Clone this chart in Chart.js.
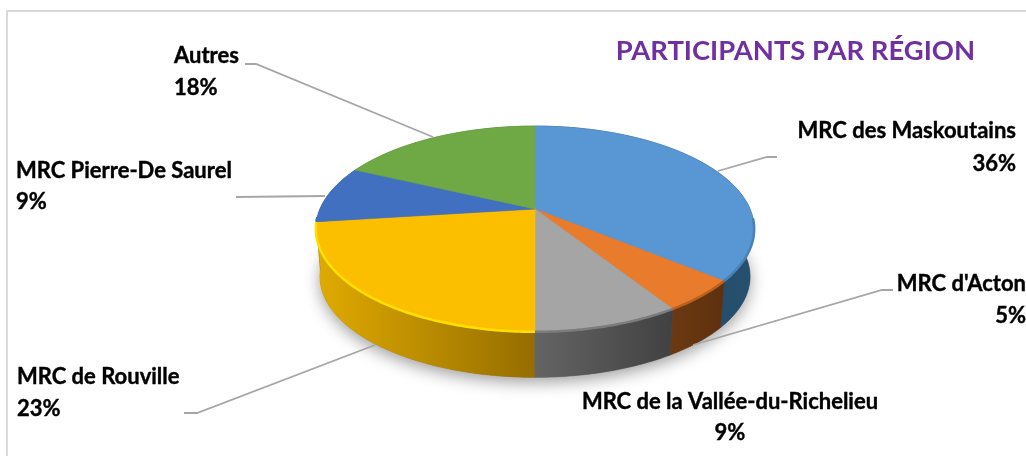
<!DOCTYPE html>
<html lang="fr">
<head>
<meta charset="utf-8">
<title>Participants par région</title>
<script src="https://cdn.jsdelivr.net/npm/chart.js@4"></script>
<style>
  html, body { margin: 0; padding: 0; background: #fff; }
  canvas { display: block; }
</style>
</head>
<body>
<canvas id="myChart" width="1026" height="456"></canvas>
<script>
// data
const categories = ['MRC des Maskoutains', "MRC d'Acton", 'MRC de la Vallée-du-Richelieu', 'MRC de Rouville', 'MRC Pierre-De Saurel', 'Autres'];
const values = [36, 5, 9, 23, 9, 18];
const titleText = 'PARTICIPANTS PAR RÉGION';

// colours
const topColors = ['#5896d4', '#e97b2d', '#a5a5a5', '#fcbf00', '#4270c0', '#6fa945'];
const sideColors = [
    ['#1c4162', '#27506f'],
    ['#6b3a12', '#5f300f'],
    ['#646464', '#414141'],
    ['#e0ab00', '#956d00'],
    ['#26406f', '#26406f'],
    ['#3f6628', '#3f6628']
];
const rimColors = ['#4a80b6', '#b9601f', '#7c7c7c', '#ffe000', '#4270c0', '#6fa945'];

// where the text and the leader lines go, same order as categories
const labelStyles = [
    { x: 1016, y: 131, y2: 164, align: 'right', line: [[718, 171], [767, 157], [777, 157]] },
    { x: 1026, y: 284, y2: 316, align: 'right', line: [[693, 345], [882, 290], [893, 290]] },
    { x: 730, y: 402, y2: 433, align: 'center', line: null },
    { x: 17, y: 377, y2: 409, align: 'left', line: [[375, 345], [197, 413], [184, 413]] },
    { x: 16, y: 171, y2: 202, align: 'left', line: [[325, 196], [236, 197]] },
    { x: 174, y: 56, y2: 88, align: 'left', line: [[433, 137], [256, 64], [245, 64]] }
];

// perspective of the disc, the top face and the foot of the rim
const topFace = { cx: 535, cy: 209, a: 215, b: 99, k: -0.194 };
const footFace = { cx: 535, cy: 257, a: 211, b: 97, k: -0.194 };

function project(face, angle) {
    const u = Math.cos(angle), v = Math.sin(angle);
    const d = 1 + face.k * v;
    return [face.cx + face.a * u / d, face.cy + face.b * v / d];
}

function rimPoints(face, start, end) {
    const pts = [];
    const steps = Math.max(2, Math.ceil((end - start) / 0.015));
    for (let i = 0; i <= steps; i++) {
        pts.push(project(face, start + (end - start) * i / steps));
    }
    return pts;
}

function tracePath(ctx, pts) {
    pts.forEach(function (p, i) {
        if (i == 0) ctx.moveTo(p[0], p[1]);
        else ctx.lineTo(p[0], p[1]);
    });
}

const piePlugin = {
    id: 'pie3d',
    beforeDatasetsDraw(chart) {
        const ctx = chart.ctx;
        const arcs = chart.getDatasetMeta(0).data;

        // soft shadow under the disc
        ctx.save();
        ctx.shadowColor = 'rgba(0,0,0,0.38)';
        ctx.shadowBlur = 16;
        ctx.shadowOffsetY = 5;
        ctx.fillStyle = '#777';
        ctx.beginPath();
        tracePath(ctx, rimPoints(footFace, 0, Math.PI * 2));
        ctx.closePath();
        ctx.fill();
        ctx.restore();

        // rim, back slices first
        const order = arcs.map(function (arc, i) { return i; }).sort(function (a, b) {
            return Math.sin((arcs[a].startAngle + arcs[a].endAngle) / 2) - Math.sin((arcs[b].startAngle + arcs[b].endAngle) / 2);
        });
        order.forEach(function (i) {
            const arc = arcs[i];
            const upper = rimPoints(topFace, arc.startAngle, arc.endAngle);
            const lower = rimPoints(footFace, arc.startAngle, arc.endAngle).reverse();
            const xs = upper.concat(lower).map(function (p) { return p[0]; });
            const grad = ctx.createLinearGradient(Math.min.apply(null, xs), 0, Math.max.apply(null, xs), 0);
            grad.addColorStop(0, sideColors[i][0]);
            grad.addColorStop(1, sideColors[i][1]);
            ctx.fillStyle = grad;
            ctx.strokeStyle = grad;
            ctx.lineWidth = 0.6;
            ctx.beginPath();
            tracePath(ctx, upper.concat(lower));
            ctx.closePath();
            ctx.fill();
            ctx.stroke();
        });

        // top face
        arcs.forEach(function (arc) {
            ctx.fillStyle = arc.options.backgroundColor;
            ctx.strokeStyle = arc.options.backgroundColor;
            ctx.lineWidth = 0.6;
            ctx.beginPath();
            tracePath(ctx, [[topFace.cx, topFace.cy]].concat(rimPoints(topFace, arc.startAngle, arc.endAngle)));
            ctx.closePath();
            ctx.fill();
            ctx.stroke();
        });

        // thin light band where the top face meets the rim
        ctx.save();
        ctx.lineCap = 'butt';
        arcs.forEach(function (arc, i) {
            const pts = rimPoints(topFace, arc.startAngle, arc.endAngle).filter(function (p) {
                return p[1] > topFace.cy + 8;
            });
            if (pts.length < 2) return;
            ctx.strokeStyle = rimColors[i];
            ctx.lineWidth = 2.5;
            ctx.filter = 'blur(0.7px)';
            ctx.beginPath();
            tracePath(ctx, pts);
            ctx.stroke();
        });
        ctx.restore();

        return false;
    },
    afterDraw(chart) {
        const ctx = chart.ctx;
        ctx.save();

        // frame of the picture, top and left only
        ctx.strokeStyle = '#d9d9d9';
        ctx.lineWidth = 2;
        ctx.beginPath();
        ctx.moveTo(7, 456);
        ctx.lineTo(7, 11);
        ctx.lineTo(1026, 11);
        ctx.stroke();

        // leader lines
        ctx.strokeStyle = '#a6a6a6';
        ctx.lineWidth = 1.8;
        labelStyles.forEach(function (s) {
            if (!s.line) return;
            ctx.beginPath();
            tracePath(ctx, s.line);
            ctx.stroke();
        });

        // labels
        ctx.fillStyle = '#000';
        ctx.strokeStyle = '#000';
        ctx.lineWidth = 0.4;
        ctx.font = 'bold 22px Lato';
        ctx.textBaseline = 'middle';
        labelStyles.forEach(function (s, i) {
            ctx.textAlign = s.align;
            ctx.fillText(categories[i], s.x, s.y);
            ctx.strokeText(categories[i], s.x, s.y);
            ctx.fillText(values[i] + '%', s.x, s.y2);
            ctx.strokeText(values[i] + '%', s.x, s.y2);
        });
        ctx.restore();
    }
};

var myChart = new Chart(document.getElementById('myChart').getContext('2d'), {
    type: 'pie',
    data: {
        labels: categories,
        datasets: [{
            data: values,
            backgroundColor: topColors,
            borderWidth: 0
        }]
    },
    options: {
        responsive: false,
        animation: false,
        layout: { padding: { top: 35, right: 51 } },
        plugins: {
            legend: { display: false },
            tooltip: { enabled: false },
            title: {
                display: true,
                text: titleText,
                align: 'end',
                color: '#7030a0',
                font: { family: 'Lato', size: 27.4, weight: 'bold' },
                padding: 0
            }
        }
    },
    plugins: [piePlugin]
});
</script>
</body>
</html>
